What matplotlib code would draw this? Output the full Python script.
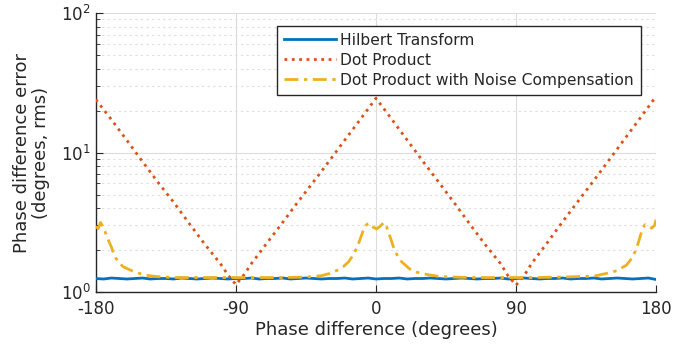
import matplotlib
matplotlib.use("Agg")
import matplotlib.pyplot as plt
from matplotlib.ticker import FixedLocator, LogLocator, NullFormatter

# ---------------- data ----------------
hilbert_x = list(range(-180, 181, 5))
hilbert_y = [1.25, 1.24, 1.26, 1.25, 1.24, 1.25, 1.26, 1.24, 1.25, 1.25, 1.24, 1.26,
             1.25, 1.24, 1.25, 1.26, 1.25, 1.24, 1.25, 1.25, 1.26, 1.24, 1.25, 1.25,
             1.26, 1.24, 1.25, 1.26, 1.25, 1.24, 1.25, 1.25, 1.26, 1.24, 1.25, 1.26,
             1.24, 1.25, 1.25, 1.26, 1.24, 1.25, 1.25, 1.26, 1.25, 1.24, 1.25, 1.26,
             1.25, 1.24, 1.25, 1.25, 1.26, 1.24, 1.25, 1.26, 1.25, 1.24, 1.25, 1.25,
             1.26, 1.24, 1.25, 1.25, 1.26, 1.24, 1.25, 1.26, 1.25, 1.24, 1.25, 1.26,
             1.23]

dot_x = [-180, -170, -160, -150, -140, -130, -120, -110, -100, -95, -90, -85, -80,
         -70, -60, -50, -40, -30, -20, -10, 0, 10, 20, 30, 40, 50, 60, 70, 80, 85,
         90, 95, 100, 110, 120, 130, 140, 150, 160, 170, 180]
dot_y = [24.0, 17.2, 12.2, 8.6, 6.1, 4.4, 3.1, 2.2, 1.6, 1.32, 1.13, 1.32, 1.6,
         2.25, 3.15, 4.45, 6.2, 8.7, 12.3, 17.3, 24.5, 17.4, 12.3, 8.7, 6.2, 4.4,
         3.1, 2.2, 1.6, 1.3, 1.12, 1.3, 1.6, 2.25, 3.2, 4.5, 6.3, 8.9, 12.6, 17.8,
         25.3]

comp_x = [-180, -178.5, -177, -175, -173, -170, -168, -165, -162.5, -158, -154,
          -148, -141, -130, -120, -100, -80, -60, -45, -35, -29.6, -25, -21, -17.5,
          -14.6, -12.5, -10.3, -8.5, -7.1, -5, -2.5, 0.4, 2.5, 5.1, 7, 9, 12.2,
          16.4, 21.8, 26, 30.3, 41, 60, 80, 100, 120, 140, 148.2, 154.6, 161,
          165.3, 168.5, 170.7, 172.8, 175, 177.1, 179, 180]
comp_y = [2.95, 2.85, 3.15, 2.9, 2.5, 2.1, 1.8, 1.62, 1.52, 1.44, 1.38, 1.32, 1.29,
          1.27, 1.27, 1.27, 1.27, 1.27, 1.28, 1.31, 1.36, 1.43, 1.52, 1.65, 1.85,
          2.05, 2.37, 2.7, 2.95, 3.12, 2.95, 2.83, 2.95, 3.15, 2.9, 2.5, 1.95, 1.65,
          1.46, 1.39, 1.35, 1.29, 1.27, 1.27, 1.27, 1.28, 1.3, 1.36, 1.42, 1.56,
          1.8, 2.24, 2.72, 3.04, 2.95, 2.87, 3.0, 3.3]

x_ticks = [-180, -90, 0, 90, 180]
x_labels = ["-180", "-90", "0", "90", "180"]
series_names = ["Hilbert Transform", "Dot Product",
                "Dot Product with Noise Compensation"]

# ---------------- plot ----------------
plt.rcParams['font.family'] = ['DejaVu Sans']
fig = plt.figure(figsize=(6.75, 3.51), dpi=100)
ax = fig.add_axes([0.142, 0.168, 0.830, 0.795])

ax.plot(hilbert_x, hilbert_y, color='#0072BD', lw=2.0, ls='-', label=series_names[0], zorder=3)
ax.plot(dot_x, dot_y, color='#D95319', lw=2.0, ls=':', label=series_names[1], zorder=4)
ax.plot(comp_x, comp_y, color='#EDB120', lw=2.0, ls=(0, (5, 2, 1.2, 2)),
        label=series_names[2], zorder=5)

ax.set_yscale('log')
ax.set_xlim(-180, 180)
ax.set_ylim(1, 100)
ax.set_xticks(x_ticks)
ax.set_xticklabels(x_labels)
ax.yaxis.set_major_locator(FixedLocator([1, 10, 100]))
ax.yaxis.set_minor_locator(LogLocator(base=10, subs=range(2, 10)))
ax.yaxis.set_minor_formatter(NullFormatter())
ax.set_yticklabels([r'$10^0$', r'$10^1$', r'$10^2$'])

ax.grid(True, which='major', color='#dcdcdc', lw=0.8, ls='-')
ax.grid(True, which='minor', axis='y', color='#dedede', lw=0.8, ls=(0, (2, 3)))
ax.set_axisbelow(True)

for s in ['top', 'right']:
    ax.spines[s].set_visible(False)
for s in ['left', 'bottom']:
    ax.spines[s].set_color('#262626')
    ax.spines[s].set_linewidth(1.0)

ax.tick_params(axis='both', which='both', direction='in', colors='#262626',
               labelcolor='#262626', labelsize=12)
ax.tick_params(axis='both', which='major', length=5)
ax.tick_params(axis='y', which='minor', length=3)
ax.tick_params(axis='x', pad=6)

ax.set_xlabel('Phase difference (degrees)', fontsize=13, color='#262626', labelpad=2)
ax.set_ylabel('Phase difference error\n(degrees, rms)', fontsize=13, color='#262626',
              labelpad=8, linespacing=1.1)

leg = ax.legend(loc='upper right', bbox_to_anchor=(0.987, 0.982), fontsize=11.2,
                fancybox=False, framealpha=1, edgecolor='#262626', handlelength=3.3,
                handletextpad=0.3, borderpad=0.45, labelspacing=0.32)
leg.get_frame().set_linewidth(1.0)
for t in leg.get_texts():
    t.set_color('#262626')

fig.savefig('out.png', dpi=100)
